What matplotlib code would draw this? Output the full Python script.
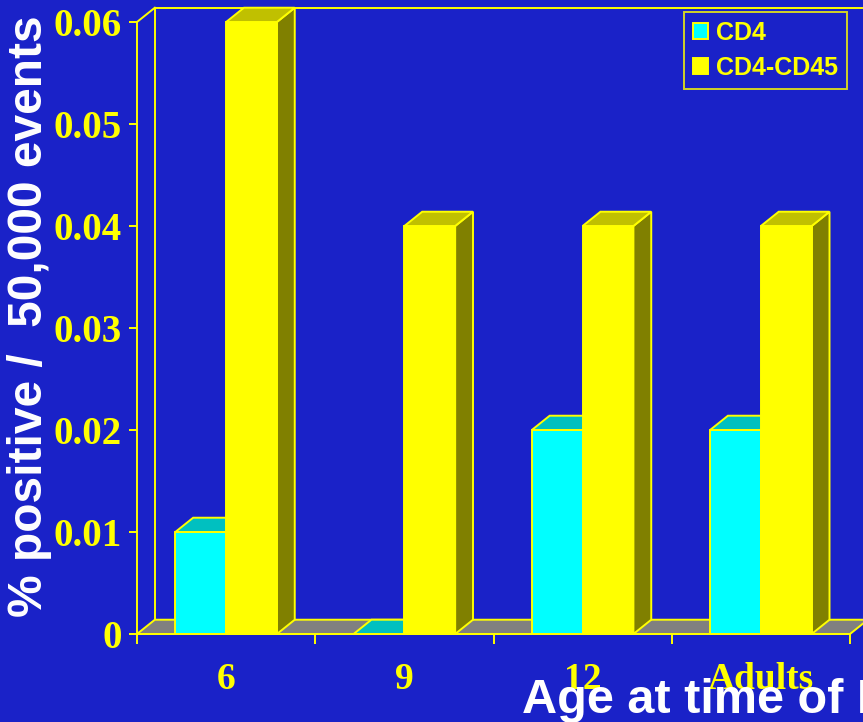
import matplotlib
matplotlib.use("Agg")
from matplotlib import pyplot as plt
from matplotlib.patches import Polygon, Rectangle
import numpy as np

# data
ages = ["6", "9", "12", "Adults"]
cd4 = [0.01, 0.0, 0.02, 0.02]
cd4_cd45 = [0.06, 0.04, 0.04, 0.04]
yticks = [0, 0.01, 0.02, 0.03, 0.04, 0.05, 0.06]
ytick_labels = ["0", "0.01", "0.02", "0.03", "0.04", "0.05", "0.06"]

blue = "#1a22c8"
yel = "#ffff00"
cyan_faces = ("#00ffff", "#00c0c0", "#008080")
yel_faces = ("#ffff00", "#c0c000", "#808000")

fig = plt.figure(figsize=(8.63, 7.22), dpi=100, facecolor=blue)
ax = fig.add_axes([137/863, 88/722, 713/863, 612/722])
ax.set_facecolor(blue)
ax.set_xlim(-0.5, 3.5)
ax.set_ylim(0, 0.06)

# depth offset of the fake 3d look
dx = 0.1
dy = 0.0014
lw = 1.4
w = 0.285

def bar3d(x0, h, faces, z):
    front = [(x0, 0), (x0 + w, 0), (x0 + w, h), (x0, h)]
    top = [(x0, h), (x0 + w, h), (x0 + w + dx, h + dy), (x0 + dx, h + dy)]
    side = [(x0 + w, 0), (x0 + w + dx, dy), (x0 + w + dx, h + dy), (x0 + w, h)]
    for pts, fc in ((side, faces[2]), (front, faces[0]), (top, faces[1])):
        ax.add_patch(Polygon(pts, closed=True, facecolor=fc, edgecolor=yel,
                             lw=lw, zorder=z, clip_on=False))

# walls
x_lo, x_hi, ytop = -0.5, 3.5, 0.06
ax.plot([x_lo + dx, x_lo + dx], [dy, ytop + dy], color=yel, lw=lw, zorder=0.5, clip_on=False)
ax.plot([x_lo + dx, x_hi + dx + 0.2], [ytop + dy, ytop + dy], color=yel, lw=lw, zorder=0.5, clip_on=False)
ax.plot([x_lo, x_lo + dx], [ytop, ytop + dy], color=yel, lw=lw, zorder=0.5, clip_on=False)
ax.plot([x_lo, x_lo], [0, ytop], color=yel, lw=lw, zorder=3, clip_on=False)

# floor
ax.add_patch(Polygon([(x_lo, 0), (x_hi, 0), (x_hi + dx, dy), (x_lo + dx, dy)],
                     closed=True, facecolor="#808080", edgecolor=yel, lw=lw,
                     zorder=1, clip_on=False))

z = 2
for i in range(len(ages)):
    bar3d(i - w, cd4[i], cyan_faces, z)
    bar3d(i, cd4_cd45[i], yel_faces, z + 0.1)
    z += 0.2

for s in ax.spines.values():
    s.set_visible(False)
ax.plot([x_lo, x_hi], [0, 0], color=yel, lw=lw, zorder=3, clip_on=False)

ax.set_yticks(yticks)
ax.set_yticklabels(ytick_labels)
ax.set_xticks(np.arange(-0.5, 4, 1))
ax.set_xticklabels([])
ax.set_xticks(range(len(ages)), minor=True)
ax.set_xticklabels(ages, minor=True)
ax.tick_params(axis="y", colors=yel, length=6, width=lw, pad=5, labelsize=28)
ax.tick_params(axis="x", which="major", colors=yel, length=7, width=lw)
ax.tick_params(axis="x", which="minor", length=0, pad=20, colors=yel, labelsize=27)
for t in ax.get_yticklabels() + ax.get_xticklabels(minor=True):
    t.set_fontfamily("Liberation Serif")
    t.set_fontweight("bold")
    t.set_color(yel)

fig.text(30/863, 1 - 316/722, "% positive /  50,000 events", rotation=90,
         ha="center", va="center", color="white", fontsize=34.5,
         fontweight="bold", family="Liberation Sans")
fig.text(522/863, 1 - 713/722, "Age at time of Infection", ha="left",
         va="baseline", color="white", fontsize=35, fontweight="bold",
         family="Liberation Sans")

handles = [Rectangle((0, 0), 1, 1, facecolor=cyan_faces[0], edgecolor=yel, lw=lw),
           Rectangle((0, 0), 1, 1, facecolor=yel_faces[0], edgecolor=yel, lw=lw)]
leg = fig.legend(handles, ["CD4", "CD4-CD45"], loc="upper right",
                 bbox_to_anchor=(847/863, 1 - 12/722), frameon=True,
                 fancybox=False, facecolor=blue, edgecolor=yel,
                 prop={"family": "Liberation Sans", "weight": "bold", "size": 18},
                 handlelength=0.6, handleheight=0.6, handletextpad=0.35,
                 labelspacing=0.45, borderpad=0.35, borderaxespad=0)
leg.get_frame().set_linewidth(lw)
for t in leg.get_texts():
    t.set_color(yel)

fig.savefig("out.png", dpi=100, facecolor=blue)
